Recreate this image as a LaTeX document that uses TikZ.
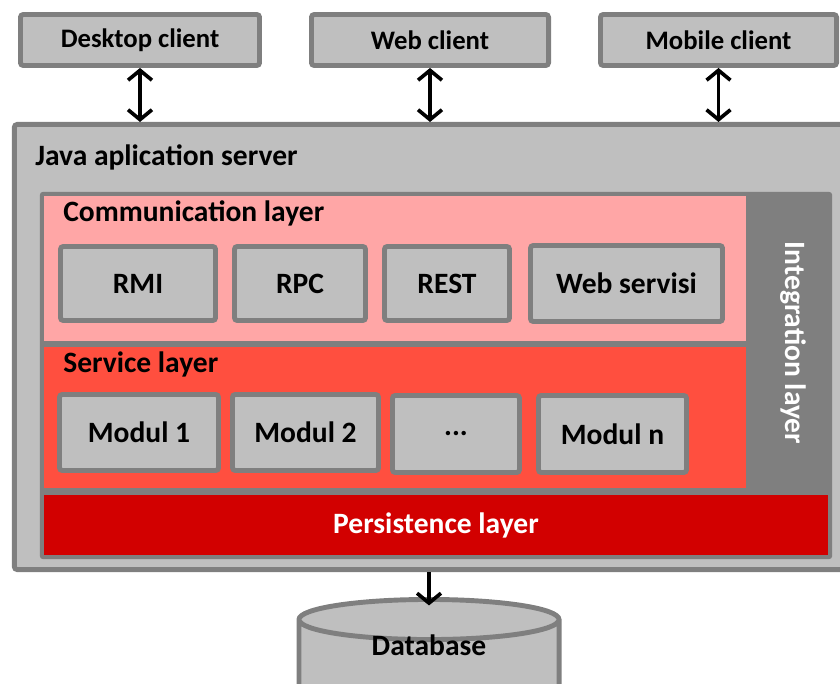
\documentclass[tikz,border=0pt]{standalone}
\usepackage{fontspec}
\setmainfont{Carlito}
\usetikzlibrary{arrows.meta,shapes.geometric}
\definecolor{boxgray}{HTML}{BFBFBF}
\definecolor{edgegray}{HTML}{7F7F7F}
\definecolor{commpink}{HTML}{FFA6A6}
\definecolor{servred}{HTML}{FF4F3F}
\definecolor{persred}{HTML}{D20000}
\tikzset{
  box/.style={draw=edgegray, fill=boxgray, line width=3.5pt, rounded corners=2pt,
    inner sep=0pt, font=\fontsize{21}{24}\selectfont\bfseries},
  client/.style={box, minimum height=1.275cm, font=\fontsize{19}{22}\selectfont\bfseries},
  layer/.style={inner sep=0pt, font=\fontsize{21}{24}\selectfont\bfseries},
  caption/.style={anchor=west, inner sep=0pt, font=\fontsize{21}{24}\selectfont\bfseries},
  link/.style={<->, line width=2.6pt},
}
\begin{document}
\begin{tikzpicture}[x=0.025cm, y=-0.025cm, >={Straight Barb[length=7pt,width=17pt]}]
\useasboundingbox (0,0) rectangle (840,683);
% clients
\node[client, minimum width=5.975cm] (desk) at (140,40) {Desktop client};
\node[client, minimum width=5.925cm] (web) at (430,40) {Web client};
\node[client, minimum width=5.9cm] (mob) at (718.5,40) {Mobile client};
% server and layers
\node[box, minimum width=20.75cm, minimum height=11.125cm] (srv) at (429.5,347) {};
\node[caption] (srvtitle) at (35,157) {Java aplication server};
\node[layer, fill=edgegray, rounded corners=2pt, minimum width=19.8cm, minimum height=9.175cm] (integ) at (436,375.5) {};
\node[layer, fill=commpink, minimum width=17.55cm, minimum height=3.625cm] (comm) at (395,268.5) {};
\node[layer, fill=servred, minimum width=17.55cm, minimum height=3.525cm] (serv) at (395,417.5) {};
\node[layer, fill=persred, text=white, minimum width=19.6cm, minimum height=1.5cm] (pers) at (436,525) {Persistence layer};
\node[layer, rotate=-90, text=white] (integtitle) at (793,343) {Integration layer};
\node[caption] (commtitle) at (63,213) {Communication layer};
\node[caption] (servtitle) at (63,364) {Service layer};
% communication
\node[box, minimum width=3.875cm, minimum height=1.85cm] (rmi) at (138,283.5) {RMI};
\node[box, minimum width=3.275cm, minimum height=1.85cm] (rpc) at (300,283.5) {RPC};
\node[box, minimum width=3.125cm, minimum height=1.85cm] (rest) at (447,283.5) {REST};
\node[box, minimum width=4.8cm, minimum height=1.9cm] (ws) at (626.5,283.5) {Web servisi};
% service modules
\node[box, minimum width=3.975cm, minimum height=1.9cm] (m1) at (139,432.5) {Modul 1};
\node[box, minimum width=3.65cm, minimum height=1.9cm] (m2) at (305.5,432.5) {Modul 2};
\node[box, minimum width=3.175cm, minimum height=1.925cm] (mdots) at (456,434) {...};
\node[box, minimum width=3.7cm, minimum height=1.925cm] (mn) at (612.5,434) {Modul n};
% database
\node[box, rounded corners=0pt, shape=cylinder, shape border rotate=90, aspect=0.35,
  minimum width=6.5cm, minimum height=2.65cm, anchor=north,
  label={[layer, yshift=13pt]center:Database}] (db) at (429,597) {\phantom{Database}};
% links
\draw[link] (desk.south) -- (desk.south |- srv.north);
\draw[link] (web.south) -- (web.south |- srv.north);
\draw[link] (mob.south) -- (mob.south |- srv.north);
\draw[->, line width=2.6pt] (db.north |- srv.south) -- ([yshift=-6pt]db.north);
\end{tikzpicture}
\end{document}
